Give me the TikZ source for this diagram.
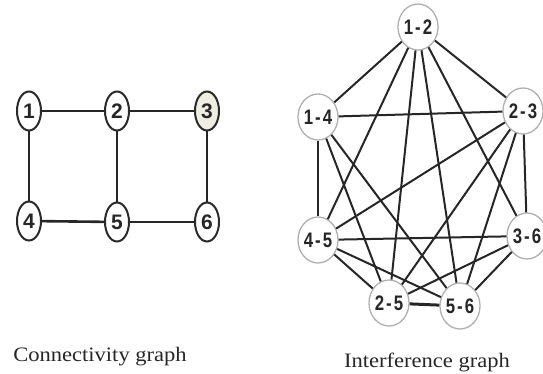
\documentclass[tikz,border=0pt]{standalone}
\usepackage{fontspec}
\setmainfont{Liberation Serif}
\newfontfamily\labfont{Liberation Sans}
\usetikzlibrary{shapes.geometric}
\definecolor{edgec}{HTML}{262626}
\definecolor{ringl}{HTML}{2A2A2A}
\definecolor{ringr}{HTML}{B0B0B0}
\definecolor{fillthree}{HTML}{EEEEE2}
\tikzset{
  cnode/.style={ellipse, draw=ringl, line width=2pt, fill=white, minimum width=24pt, minimum height=39pt, inner sep=0pt, text=edgec, font=\labfont\fontsize{21}{23}\selectfont\bfseries},
  inode/.style={ellipse, draw=ringr, line width=1.3pt, fill=white, minimum width=34pt, minimum height=46pt, inner sep=0pt, text=edgec, font=\labfont\fontsize{21}{23}\selectfont\bfseries},
  cedge/.style={draw=edgec, line width=2.6pt},
  iedge/.style={draw=edgec, line width=2pt},
  caption/.style={font=\fontsize{20.5}{24}\selectfont, text=edgec, xscale=1.1, anchor=base, inner sep=0pt}
}
\newcommand{\pairlab}[2]{\scalebox{0.8}[1]{#1\hspace{0.12em}-\hspace{0.12em}#2}}
\begin{document}
\begin{tikzpicture}[x=1pt,y=-1pt]
\useasboundingbox (0,0) rectangle (543,374);
% Connectivity graph
\node[cnode] (c1) at (29,111) {1};
\node[cnode] (c2) at (117,111) {2};
\node[cnode, fill=fillthree] (c3) at (207,111) {3};
\node[cnode] (c4) at (29,221) {4};
\node[cnode] (c5) at (117,222) {5};
\node[cnode] (c6) at (207,222) {6};
\draw[cedge] (c1) -- (c2);
\draw[cedge] (c2) -- (c3);
\draw[cedge] (c4) -- (c5);
\draw[cedge] (c5) -- (c6);
\draw[cedge] (c1) -- (c4);
\draw[cedge] (c2) -- (c5);
\draw[cedge] (c3) -- (c6);
% Interference graph
\node[inode] (a) at (418,27) {\pairlab{1}{2}};
\node[inode] (b) at (318,117) {\pairlab{1}{4}};
\node[inode] (c) at (523,111) {\pairlab{2}{3}};
\node[inode] (d) at (527,236) {\pairlab{3}{6}};
\node[inode] (e) at (318,240) {\pairlab{4}{5}};
\node[inode] (f) at (389,303) {\pairlab{2}{5}};
\node[inode] (g) at (460,306) {\pairlab{5}{6}};
\foreach \u/\v in {a/b,a/c,a/d,a/e,a/f,a/g,b/c,b/e,b/f,b/g,c/d,c/e,c/f,c/g,d/e,d/f,d/g,e/f,e/g}
  \draw[iedge] (\u) -- (\v);
\draw[edgec, line width=3pt] (f) -- (g);
% Captions
\node[caption] (cap1) at (100,361) {Connectivity graph};
\node[caption] (cap2) at (427,367) {Interference graph};
\end{tikzpicture}
\end{document}
